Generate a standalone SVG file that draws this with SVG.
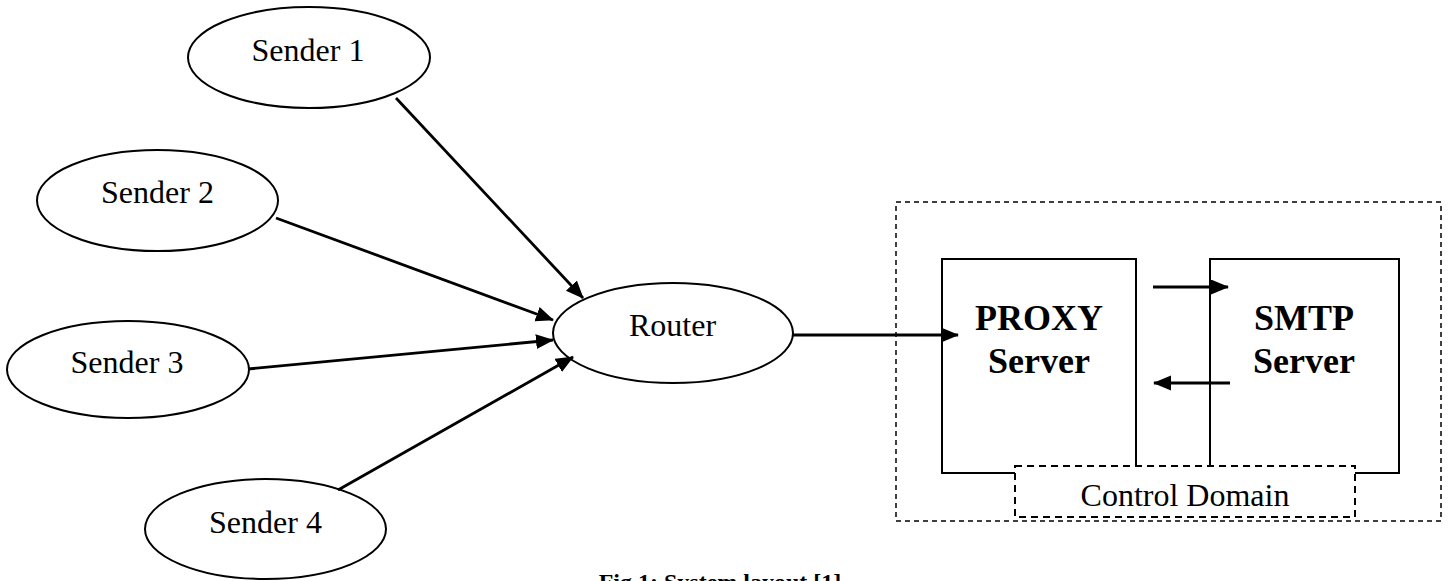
<svg xmlns="http://www.w3.org/2000/svg" width="1448" height="581" viewBox="0 0 1448 581">
<style>
.node ellipse{fill:#fff;stroke:#000;stroke-width:2}
.box{fill:#fff;stroke:#000;stroke-width:2}
.dash{fill:none;stroke:#000;stroke-width:1.5;stroke-dasharray:5 4}
.dashw{fill:#fff;stroke:#000;stroke-width:2;stroke-dasharray:7 5}
text{font-family:"Liberation Serif","Times New Roman",serif;fill:#000;text-anchor:middle}
.lbl{font-size:32px}
.big{font-size:36px;font-weight:bold}
.cap{font-size:24px;font-weight:bold}
.conn line{stroke:#000;stroke-width:2.8;marker-end:url(#ah)}
</style>
<defs>
<marker id="ah" markerUnits="userSpaceOnUse" markerWidth="20" markerHeight="16" refX="17" refY="7.5" orient="auto">
<path d="M0,0 L18,7.5 L0,15 z" fill="#000"/>
</marker>
</defs>
<rect width="1448" height="581" fill="#fff"/>
<g id="control-domain-area">
<rect class="dash" x="896" y="202" width="545" height="319"/>
</g>
<g id="proxy" class="node">
<rect class="box" x="942" y="259" width="194" height="214"/>
<text class="big" x="1039" y="330">PROXY</text>
<text class="big" x="1039" y="373">Server</text>
</g>
<g id="smtp" class="node">
<rect class="box" x="1210" y="259" width="189" height="214"/>
<text class="big" x="1304" y="330">SMTP</text>
<text class="big" x="1304" y="373">Server</text>
</g>
<g id="control-domain">
<rect class="dashw" x="1015" y="466" width="340" height="51"/>
<text class="lbl" x="1185" y="506">Control Domain</text>
</g>
<g id="sender1" class="node"><ellipse cx="309" cy="57.5" rx="121" ry="50.5"/><text class="lbl" x="308" y="61">Sender 1</text></g>
<g id="sender2" class="node"><ellipse cx="157.5" cy="200.5" rx="120.5" ry="50.5"/><text class="lbl" x="157.5" y="203">Sender 2</text></g>
<g id="sender3" class="node"><ellipse cx="128" cy="369.5" rx="121" ry="48.5"/><text class="lbl" x="127" y="373">Sender 3</text></g>
<g id="sender4" class="node"><ellipse cx="265.5" cy="529" rx="120.5" ry="50"/><text class="lbl" x="265.5" y="533">Sender 4</text></g>
<g id="router" class="node"><ellipse cx="673" cy="333" rx="120" ry="50"/><text class="lbl" x="672.5" y="336">Router</text></g>
<g id="connectors" class="conn">
<line x1="396" y1="98" x2="583" y2="298"/>
<line x1="276" y1="218" x2="553" y2="320"/>
<line x1="248" y1="369" x2="553" y2="340"/>
<line x1="338" y1="490" x2="573" y2="357"/>
<line x1="793" y1="335" x2="958" y2="335"/>
<line x1="1153" y1="287" x2="1228" y2="287"/>
<line x1="1230" y1="383" x2="1154" y2="383"/>
</g>
<text class="cap" x="720" y="590">Fig 1:  System layout [1]</text>
</svg>
